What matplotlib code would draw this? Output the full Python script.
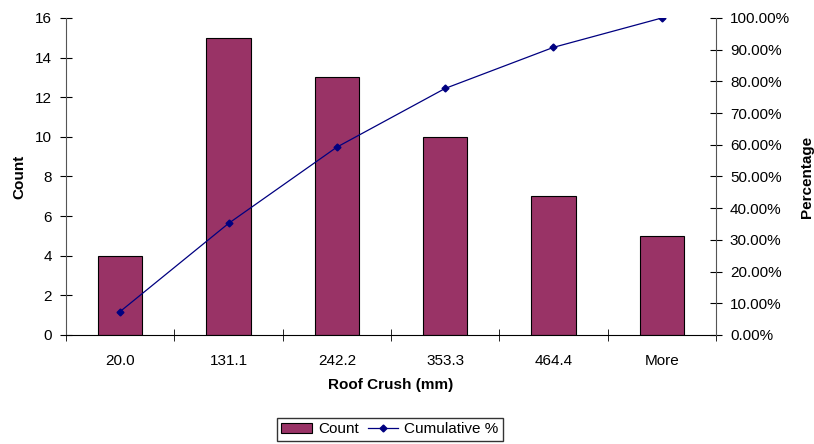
import matplotlib.pyplot as plt
import numpy as np
from matplotlib.ticker import FuncFormatter

plt.rcParams['font.family'] = ['Liberation Sans', 'DejaVu Sans']

bins = ['20.0', '131.1', '242.2', '353.3', '464.4', 'More']
counts = [4, 15, 13, 10, 7, 5]
cum_pct = [7.41, 35.19, 59.26, 77.78, 90.74, 100.0]

fs = 11

fig = plt.figure(figsize=(8.14, 4.44), dpi=100)
ax = fig.add_axes([0.0811, 0.2455, 0.7985, 0.714])
x = np.arange(len(bins))

bars = ax.bar(x, counts, width=0.41, color='#993366', edgecolor='black', linewidth=0.8, label='Count')
ax.set_xlim(-0.5, len(bins) - 0.5)
ax.set_ylim(0, 16)
ax.set_yticks(range(0, 17, 2))
ax.set_xticks(x)
ax.set_xticklabels(bins)
ax.set_xticks(np.arange(-0.5, len(bins)), minor=True)
ax.tick_params(axis='x', which='major', length=0, pad=14, labelsize=fs)
ax.tick_params(axis='x', which='minor', direction='inout', length=8)
ax.tick_params(axis='y', direction='inout', length=8, labelsize=fs, pad=6)
ax.spines['top'].set_visible(False)
ax.spines['right'].set_visible(False)
ax.spines['left'].set_color('#555555')
ax.set_ylabel('Count', fontweight='bold', fontsize=fs, labelpad=6)
ax.set_xlabel('Roof Crush (mm)', fontweight='bold', fontsize=fs, labelpad=7)

ax2 = ax.twinx()
line, = ax2.plot(x, np.array(cum_pct) / 100, color='#000080', marker='D', markersize=3.5,
                 linewidth=0.9, label='Cumulative %')
ax2.set_ylim(0, 1)
ax2.set_yticks(np.arange(0, 1.01, 0.1))
ax2.yaxis.set_major_formatter(FuncFormatter(lambda v, p: f'{v*100:.2f}%'))
ax2.tick_params(axis='y', direction='inout', length=8, labelsize=fs, pad=6)
for s in ['top', 'left', 'bottom']:
    ax2.spines[s].set_visible(False)
ax2.spines['right'].set_color('#555555')
ax2.set_ylabel('Percentage', fontweight='bold', fontsize=fs, labelpad=7)

fig.legend([bars, line], ['Count', 'Cumulative %'], loc='center', bbox_to_anchor=(0.479, 0.033),
           ncol=2, frameon=True, fancybox=False, edgecolor='black', fontsize=fs,
           handlelength=2.0, columnspacing=0.6, handletextpad=0.4, borderpad=0.3)

fig.savefig('out.png', dpi=100)
